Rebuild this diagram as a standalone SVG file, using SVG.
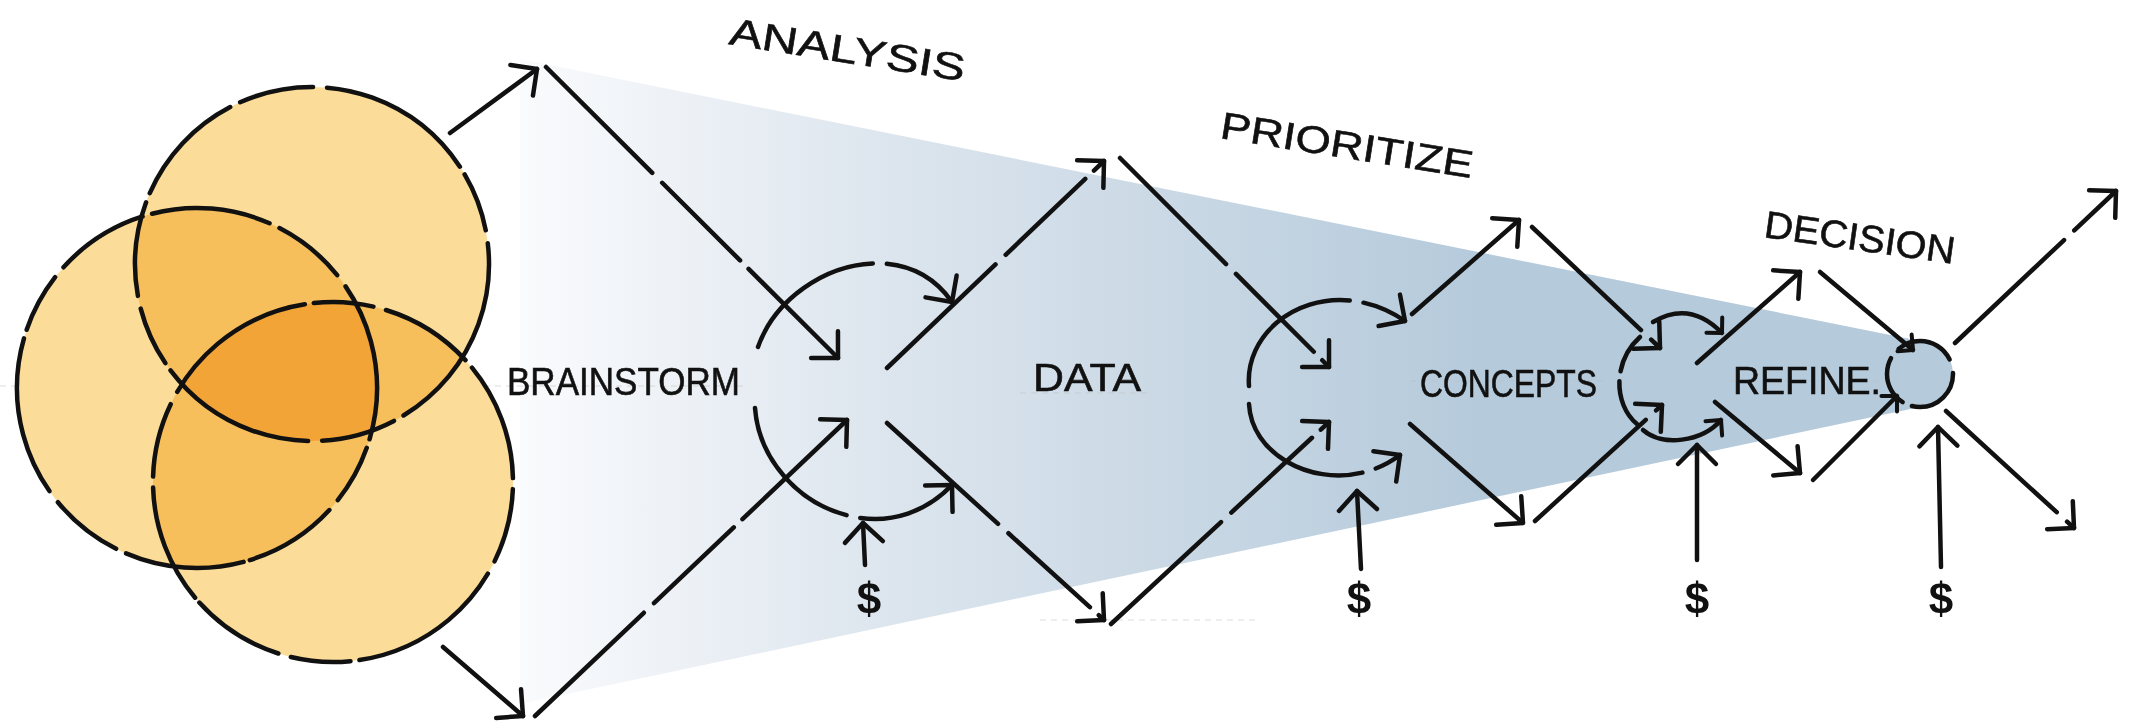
<svg xmlns="http://www.w3.org/2000/svg" width="2142" height="723" viewBox="0 0 2142 723">
<defs>
<linearGradient id="funnel" gradientUnits="userSpaceOnUse" x1="515" y1="0" x2="1480" y2="0">
<stop offset="0" stop-color="#fafbfd"/>
<stop offset="0.35" stop-color="#dfe7ef"/>
<stop offset="1" stop-color="#b5cadb"/>
</linearGradient>
<marker id="ah" viewBox="-26 -26 30 52" refX="0" refY="0" markerWidth="30" markerHeight="52" orient="auto" markerUnits="userSpaceOnUse">
<path d="M-19,-19 L0,0 L-19,19" fill="none" stroke="#111" stroke-width="4.5" stroke-linecap="round" stroke-linejoin="round"/>
</marker>
<marker id="ahs" viewBox="-16 -16 18 32" refX="0" refY="0" markerWidth="18" markerHeight="32" orient="auto" markerUnits="userSpaceOnUse">
<path d="M-11,-11 L0,0 L-11,11" fill="none" stroke="#111" stroke-width="4" stroke-linecap="round" stroke-linejoin="round"/>
</marker>
</defs>
<style>
.ln{fill:none;stroke:#111;stroke-width:4.5;stroke-linecap:round;stroke-linejoin:round;stroke-dasharray:150 14 110 12 190 16 90 13}
.ar{marker-end:url(#ah)}
.ars{marker-end:url(#ahs)}
.ring{fill:none;stroke:#111;stroke-width:4.5;stroke-linecap:round;stroke-dasharray:120 11 75 14 160 9 60 13 95 10}
.blob{fill:#fbdc99;mix-blend-mode:multiply}
.lbl{font-family:"Liberation Sans",Arial,sans-serif;font-size:38px;fill:#111;stroke:#111;stroke-width:0.6}
.usd{font-family:"Liberation Sans",Arial,sans-serif;font-size:44px;fill:#111;text-anchor:middle;font-weight:bold}
.guide{fill:none;stroke:#bbb;stroke-width:1;stroke-dasharray:6 5;opacity:0.5}
</style>
<rect x="0" y="0" width="2142" height="723" fill="#ffffff"/>

<g id="funnel-shape">
<path d="M520,59 L1920,341 A33,33 0 0 1 1920,407 L520,704 Z" fill="url(#funnel)"/>
</g>

<g id="guides">
<path class="guide" d="M0,386 L745,386"/>
<path class="guide" d="M1020,393 L1150,393"/>
<path class="guide" d="M1410,381 L1610,381"/>
<path class="guide" d="M1730,381 L1880,381"/>
<path class="guide" d="M1040,620 L1260,620"/>
</g>

<g id="venn" style="isolation:isolate">
<circle class="blob" cx="312" cy="264" r="177"/>
<circle class="blob" cx="197" cy="388" r="180"/>
<circle class="blob" cx="333" cy="482" r="180"/>
<circle class="ring" cx="312" cy="264" r="177" transform="rotate(20 312 264)"/>
<circle class="ring" cx="197" cy="388" r="180" transform="rotate(75 197 388)"/>
<circle class="ring" cx="333" cy="482" r="180" transform="rotate(140 333 482)"/>
</g>

<g id="connectors">
<path class="ln ar" d="M450,133 L537,69"/>
<path class="ln ar" d="M546,67 L838,358"/>
<path class="ln ar" d="M443,647 L523,716"/>
<path class="ln ar" d="M535,716 L847,420"/>
<path class="ln ar" d="M758,347 C785,270 900,228 952,302"/>
<path class="ln ar" d="M755,408 C762,500 880,560 952,485"/>
<path class="ln ar" d="M865,565 L863,523"/>
<path class="ln ar" d="M887,368 L1104,161"/>
<path class="ln ar" d="M1120,158 L1329,367"/>
<path class="ln ar" d="M887,423 L1104,620"/>
<path class="ln ar" d="M1111,624 L1329,422"/>
<path class="ln ar" d="M1249,386 C1244,320 1330,270 1405,321"/>
<path class="ln ar" d="M1249,404 C1252,465 1340,500 1400,455"/>
<path class="ln ar" d="M1361,569 L1357,491"/>
<path class="ln ar" d="M1412,314 L1519,220"/>
<path class="ln ar" d="M1532,227 L1660,348"/>
<path class="ln ar" d="M1410,424 L1523,523"/>
<path class="ln ar" d="M1535,521 L1662,405"/>
<path class="ln ars" d="M1653,322 Q1690,300 1722,333"/>
<path class="ln" d="M1640,337 C1612,362 1614,405 1637,424" style="stroke-dasharray:40 10 60"/>
<path class="ln ars" d="M1643,430 C1662,447 1702,442 1721,420"/>
<path class="ln ar" d="M1697,560 L1697,445"/>
<path class="ln ar" d="M1697,363 L1800,272"/>
<path class="ln ars" d="M1820,272 L1913,350"/>
<path class="ln ar" d="M1715,402 L1800,473"/>
<path class="ln ars" d="M1813,480 L1897,396"/>
<path class="ln ar" d="M1955,343 L2116,191"/>
<path class="ln ar" d="M1946,411 L2074,528"/>
<path class="ln ar" d="M1941,567 L1938,427"/>
</g>

<g id="hub-decision">
<circle class="ring" cx="1920" cy="374" r="33" style="stroke-dasharray:60 10 50 12 60 14"/>
</g>

<g id="label-analysis"><text class="lbl" x="728" y="44" textLength="238" lengthAdjust="spacingAndGlyphs" transform="rotate(9 728 44)">ANALYSIS</text></g>
<g id="label-prioritize"><text class="lbl" x="1219" y="138" textLength="255" lengthAdjust="spacingAndGlyphs" transform="rotate(9 1219 138)">PRIORITIZE</text></g>
<g id="label-decision"><text class="lbl" x="1763" y="237" textLength="192" lengthAdjust="spacingAndGlyphs" transform="rotate(8 1763 237)">DECISION</text></g>
<g id="node-brainstorm"><text class="lbl" x="507" y="395" textLength="233" lengthAdjust="spacingAndGlyphs">BRAINSTORM</text></g>
<g id="node-data"><text class="lbl" x="1033" y="391" textLength="108" lengthAdjust="spacingAndGlyphs">DATA</text></g>
<g id="node-concepts"><text class="lbl" x="1420" y="397" textLength="177" lengthAdjust="spacingAndGlyphs">CONCEPTS</text></g>
<g id="node-refine"><text class="lbl" x="1733" y="394" textLength="148" lengthAdjust="spacingAndGlyphs">REFINE.</text></g>

<g id="cost-1"><text class="usd" x="869" y="614">$</text></g>
<g id="cost-2"><text class="usd" x="1359" y="614">$</text></g>
<g id="cost-3"><text class="usd" x="1697" y="614">$</text></g>
<g id="cost-4"><text class="usd" x="1941" y="614">$</text></g>
</svg>
